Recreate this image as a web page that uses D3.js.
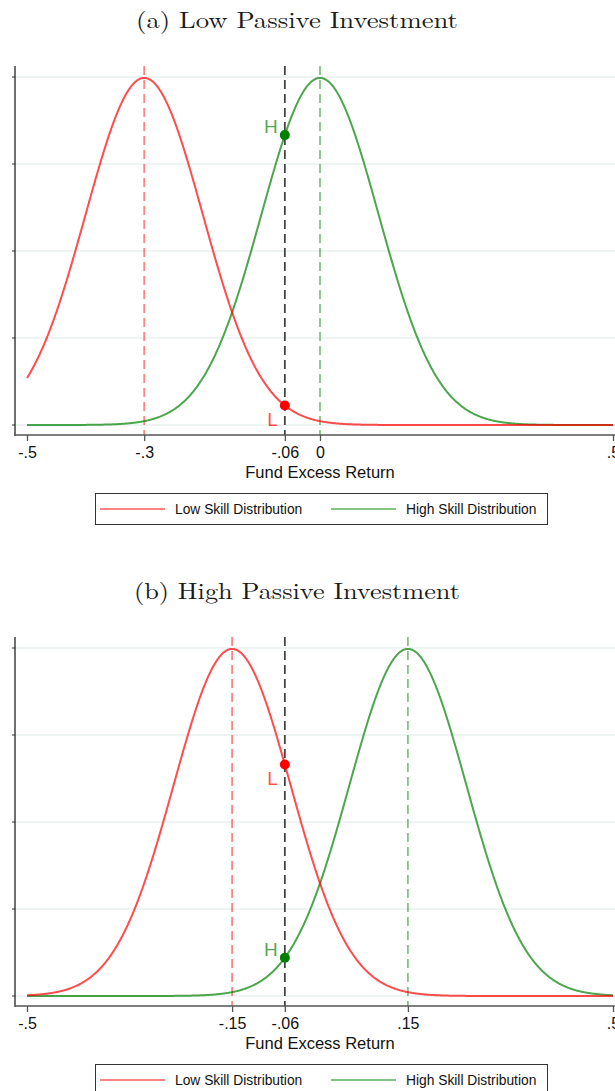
<!DOCTYPE html>
<html>
<head>
<meta charset="utf-8">
<script src="https://cdn.jsdelivr.net/npm/d3@7"></script>
<style>
  body { margin: 0; background: #fff; }
  svg { display: block; }
</style>
</head>
<body>
<svg id="chart" width="615" height="1091"></svg>
<script>
// ---- data ----
const panelTitles = ["(a) Low Passive Investment", "(b) High Passive Investment"];
const seriesNames = ["Low Skill Distribution", "High Skill Distribution"];
const lowSkillMeans = [-0.3, -0.15];   // per panel
const highSkillMeans = [0.0, 0.15];    // per panel
const skillSD = 0.1;
const threshold = -0.06;
const xTicksA = [-0.5, -0.3, -0.06, 0, 0.5];
const xTickLabelsA = ["-.5", "-.3", "-.06", "0", ".5"];
const xTicksB = [-0.5, -0.15, -0.06, 0.15, 0.5];
const xTickLabelsB = ["-.5", "-.15", "-.06", ".15", ".5"];
const yTicks = [0, 1, 2, 3, 4];
const xDomain = [-0.5, 0.5];
const xAxisTitle = "Fund Excess Return";
const pointLabels = ["L", "H"];

// ---- styling ----
const redLine = "rgba(255,0,0,0.7)";
const greenLine = "rgba(0,128,0,0.7)";
const redDash = "rgba(255,0,0,0.48)";
const greenDash = "rgba(0,128,0,0.48)";

const svg = d3.select("#chart");
const pdf = (x, m, s) => Math.exp(-0.5 * ((x - m) / s) ** 2) / (s * Math.sqrt(2 * Math.PI));

function drawPanel(i, offY) {
  const g = svg.append("g").attr("transform", `translate(0,${offY})`);
  const x = d3.scaleLinear().domain(xDomain).range([27, 613]);
  const y = d3.scaleLinear().domain([0, 4]).range([425, 77]);
  const axisX = 15, axisY = 435, topY = 66;

  // title
  g.append("text").attr("x", 297).attr("y", 28)
    .attr("text-anchor", "middle")
    .attr("font-family", "'Latin Modern Roman','CMU Serif','Liberation Serif','DejaVu Serif',serif")
    .attr("font-size", 23).attr("fill", "#1a1a1a")
    .attr("textLength", i === 0 ? 322 : 326).attr("lengthAdjust", "spacingAndGlyphs")
    .text(panelTitles[i]);

  // gridlines
  g.selectAll(".grid").data(yTicks).join("line")
    .attr("x1", axisX).attr("x2", 615)
    .attr("y1", d => y(d)).attr("y2", d => y(d))
    .attr("stroke", "#e9f0f0").attr("stroke-width", 1.5);
  // y ticks (small)
  g.selectAll(".ytick").data(yTicks).join("line")
    .attr("x1", axisX - 3).attr("x2", axisX)
    .attr("y1", d => y(d)).attr("y2", d => y(d))
    .attr("stroke", "#333").attr("stroke-width", 1);

  // vertical dashed lines
  const means = [lowSkillMeans[i], highSkillMeans[i]];
  const dashCols = [redDash, greenDash];
  means.forEach((m, k) => {
    g.append("line").attr("x1", x(m)).attr("x2", x(m))
      .attr("y1", topY).attr("y2", axisY)
      .attr("stroke", dashCols[k]).attr("stroke-width", 1.8)
      .attr("stroke-dasharray", "9,5");
  });
  g.append("line").attr("x1", x(threshold)).attr("x2", x(threshold))
    .attr("y1", topY).attr("y2", axisY)
    .attr("stroke", "#444").attr("stroke-width", 1.8)
    .attr("stroke-dasharray", "9,5");

  // curves
  const xs = d3.range(0, 1001).map(j => xDomain[0] + j * (xDomain[1] - xDomain[0]) / 1000);
  const line = d3.line().x(d => x(d[0])).y(d => y(d[1]));
  g.append("path").datum(xs.map(v => [v, pdf(v, highSkillMeans[i], skillSD)]))
    .attr("d", line).attr("fill", "none").attr("stroke", greenLine).attr("stroke-width", 2);
  g.append("path").datum(xs.map(v => [v, pdf(v, lowSkillMeans[i], skillSD)]))
    .attr("d", line).attr("fill", "none").attr("stroke", redLine).attr("stroke-width", 2);

  // axes lines
  g.append("line").attr("x1", axisX).attr("x2", axisX).attr("y1", topY).attr("y2", axisY + 1)
    .attr("stroke", "#222").attr("stroke-width", 1.3);
  const xAxis = d3.axisBottom(x)
    .tickValues(i === 0 ? xTicksA : xTicksB)
    .tickFormat((d, k) => (i === 0 ? xTickLabelsA : xTickLabelsB)[k])
    .tickSize(6).tickSizeOuter(0);
  const ax = g.append("g").attr("transform", `translate(0,${axisY})`).call(xAxis);
  ax.select(".domain").attr("d", `M${axisX},0H615`).attr("stroke", "#555").attr("stroke-width", 1.3);
  ax.selectAll(".tick line").attr("stroke", "#555").attr("stroke-width", 1.3);
  ax.selectAll(".tick text").attr("font-family", "'Liberation Sans',Arial,sans-serif")
    .attr("font-size", 16).attr("fill", "#111").attr("dy", "0.9em").attr("y", 9);

  g.append("text").attr("x", 320).attr("y", 478).attr("text-anchor", "middle")
    .attr("font-family", "'Liberation Sans',Arial,sans-serif").attr("font-size", 16.5)
    .attr("fill", "#111").text(xAxisTitle);

  // points and labels
  const pts = [
    {lab: pointLabels[0], v: pdf(threshold, lowSkillMeans[i], skillSD), fill: "#ff0000", txt: "rgba(255,0,0,0.7)"},
    {lab: pointLabels[1], v: pdf(threshold, highSkillMeans[i], skillSD), fill: "#008000", txt: "rgba(0,128,0,0.7)"}
  ];
  pts.forEach(p => {
    const cx = x(threshold), cy = y(p.v);
    g.append("circle").attr("cx", cx).attr("cy", cy).attr("r", 5).attr("fill", p.fill);
    const below = p.lab === "L";
    g.append("text").attr("x", cx - 7).attr("y", below ? cy + 20 : cy - 2)
      .attr("text-anchor", "end")
      .attr("font-family", "'Liberation Sans',Arial,sans-serif").attr("font-size", 19)
      .attr("fill", p.txt).text(p.lab);
  });

  // legend
  const lg = g.append("g");
  lg.append("rect").attr("x", 95.5).attr("y", 493.5).attr("width", 452).attr("height", 31)
    .attr("fill", "#fff").attr("stroke", "#333").attr("stroke-width", 1);
  const legCols = [redDash, greenDash];
  const legX = [100, 331];
  seriesNames.forEach((nm, k) => {
    lg.append("line").attr("x1", legX[k]).attr("x2", legX[k] + 65)
      .attr("y1", 509).attr("y2", 509)
      .attr("stroke", legCols[k]).attr("stroke-width", 2);
    lg.append("text").attr("x", legX[k] + 75).attr("y", 513.5)
      .attr("font-family", "'Liberation Sans',Arial,sans-serif").attr("font-size", 13.8)
      .attr("fill", "#111").text(nm);
  });
}

drawPanel(0, 0);
drawPanel(1, 571);
</script>
</body>
</html>
